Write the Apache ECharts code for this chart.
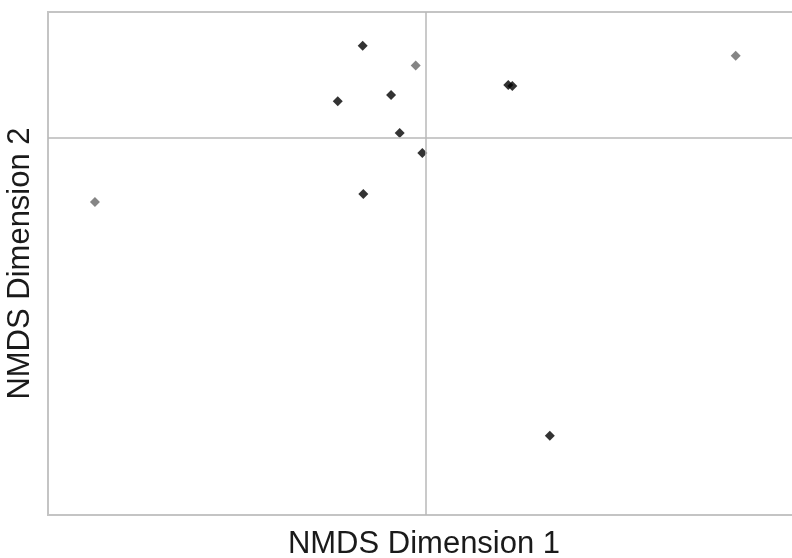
<!DOCTYPE html>
<html>
<head>
<meta charset="utf-8">
<script src="https://cdn.jsdelivr.net/npm/echarts@6/dist/echarts.min.js"></script>
<style>
  html, body { margin: 0; padding: 0; background: #fff; }
  #chart { width: 792px; height: 558px; }
</style>
</head>
<body>
<div id="chart"></div>
<script>
// NMDS ordination scores (dimension 1, dimension 2)
const dim1Dark = [-0.416, -0.581, -0.228, 0.548, 0.575, -0.171, -0.021, -0.412, 0.823];
const dim2Dark = [0.607, 0.239, 0.281, 0.347, 0.340, 0.029, -0.103, -0.375, -1.975];
const dim1Grey = [-0.065, 2.054, -2.189];
const dim2Grey = [0.475, 0.541, -0.428];

const xTitle = 'NMDS Dimension 1';
const yTitle = 'NMDS Dimension 2';

const pairs = (xs, ys) => xs.map((x, i) => [x, ys[i]]);

const chart = echarts.init(document.getElementById('chart'), null, { renderer: 'canvas' });

const frameColor = '#c4c4c4';
const titleStyle = { fontSize: 31, fontFamily: 'Liberation Sans, Arial, sans-serif', color: '#1a1a1a' };

chart.setOption({
  animation: false,
  backgroundColor: '#ffffff',
  grid: {
    left: 48, top: 12, right: -8, bottom: 43,
    outerBoundsMode: 'none', containLabel: false,
    show: true, borderColor: frameColor, borderWidth: 2, backgroundColor: 'transparent'
  },
  xAxis: {
    type: 'value', min: -2.5, max: 2.48,
    name: xTitle, nameLocation: 'middle', nameGap: 14, nameTextStyle: titleStyle,
    axisLine: { show: false, onZero: false },
    axisTick: { show: false }, axisLabel: { show: false }, splitLine: { show: false }
  },
  yAxis: {
    type: 'value', min: -2.5, max: 0.83,
    name: yTitle, nameLocation: 'middle', nameGap: 12, nameTextStyle: titleStyle,
    axisLine: { show: false, onZero: false },
    axisTick: { show: false }, axisLabel: { show: false }, splitLine: { show: false }
  },
  series: [
    {
      name: 'dark', type: 'scatter', symbol: 'diamond', symbolSize: 10,
      itemStyle: { color: '#000000' },
      data: pairs(dim1Dark, dim2Dark),
      markLine: {
        silent: true, symbol: 'none', label: { show: false },
        lineStyle: { color: '#b8b8b8', width: 1.5, type: 'solid' },
        data: [{ xAxis: 0 }, { yAxis: 0 }]
      },
      z: 3
    },
    {
      name: 'grey', type: 'scatter', symbol: 'diamond', symbolSize: 10,
      itemStyle: { color: '#666666' },
      data: pairs(dim1Grey, dim2Grey),
      z: 3
    }
  ]
});
</script>
</body>
</html>
